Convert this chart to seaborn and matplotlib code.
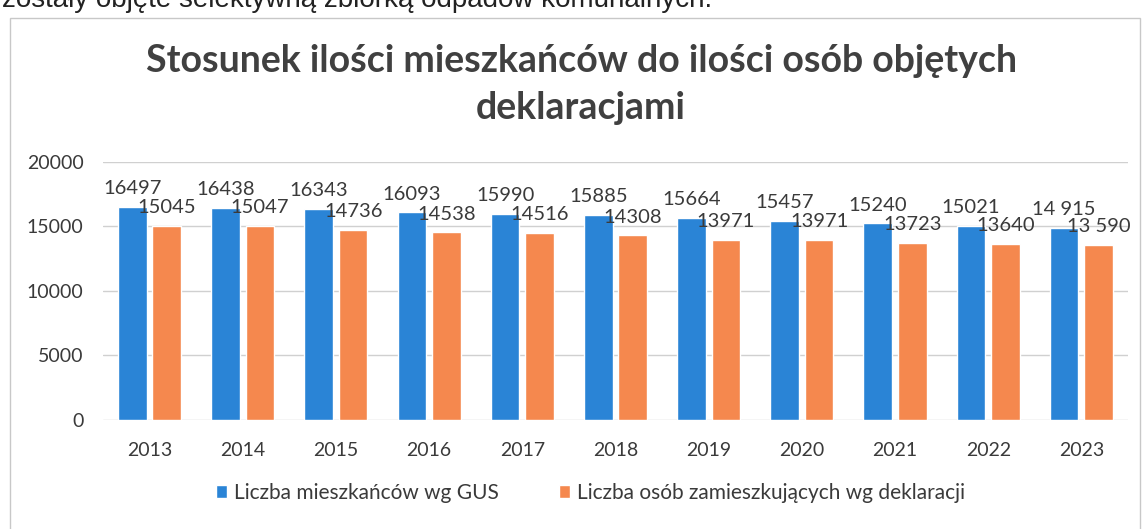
import pandas as pd
import seaborn as sns
import matplotlib.pyplot as plt
from matplotlib.patches import Rectangle


# -------------------------
# Data
# -------------------------

years = ["2013", "2014", "2015", "2016", "2017", "2018",
         "2019", "2020", "2021", "2022", "2023"]

gus = [16497, 16438, 16343, 16093, 15990, 15885,
       15664, 15457, 15240, 15021, 14915]
decl = [15045, 15047, 14736, 14538, 14516, 14308,
        13971, 13971, 13723, 13640, 13590]

gus_labels = ["16497", "16438", "16343", "16093", "15990", "15885",
              "15664", "15457", "15240", "15021", "14 915"]
decl_labels = ["15045", "15047", "14736", "14538", "14516", "14308",
               "13971", "13971", "13723", "13640", "13 590"]

series_names = ["Liczba mieszkańców wg GUS",
                "Liczba osób zamieszkujących wg deklaracji"]

yticks = [0, 5000, 10000, 15000, 20000]

title = "Stosunek ilości mieszkańców do ilości osób objętych\ndeklaracjami"
top_text = "zostały objęte selektywną zbiórką odpadów komunalnych."

data = pd.concat([
    pd.DataFrame({"Rok": years, "Wartość": gus, "Seria": series_names[0]}),
    pd.DataFrame({"Rok": years, "Wartość": decl, "Seria": series_names[1]}),
], ignore_index=True)


# -------------------------
# Style
# -------------------------

sns.set_style("white")
plt.rcParams['font.family'] = ['Lato', 'DejaVu Sans']

text_color = "#3a3a3a"
palette = {series_names[0]: "#2a84d6", series_names[1]: "#f5884e"}


# -------------------------
# Plot
# -------------------------

fig = plt.figure(figsize=(11.44, 5.29), dpi=100)
ax = fig.add_axes([0.090, 0.206, 0.896, 0.488])

sns.barplot(
    data=data,
    x="Rok",
    y="Wartość",
    hue="Seria",
    palette=palette,
    width=0.74,
    gap=0.17,
    saturation=1,
    ax=ax
)

for container, labels in zip(ax.containers, [gus_labels, decl_labels]):
    ax.bar_label(container, labels=labels, padding=7,
                 fontsize=14.5, color=text_color)

ax.set_xlim(-0.5, len(years) - 0.5)
ax.set_ylim(0, 20000)
ax.set_yticks(yticks)
ax.set_yticklabels([str(t) for t in yticks])
ax.set_xlabel("")
ax.set_ylabel("")

ax.yaxis.grid(True, color="#d0d0d0", linewidth=1)
ax.set_axisbelow(True)
for spine in ax.spines.values():
    spine.set_visible(False)

ax.tick_params(axis="both", length=0, labelsize=14, colors=text_color)
ax.tick_params(axis="x", pad=16)
ax.tick_params(axis="y", pad=14)


# -------------------------
# Legend
# -------------------------

handles, labels = ax.get_legend_handles_labels()
ax.get_legend().remove()
fig.legend(
    handles, labels,
    loc="center",
    bbox_to_anchor=(0.516, 0.068),
    ncol=2,
    frameon=False,
    fontsize=15,
    handlelength=0.55,
    handleheight=0.55,
    handletextpad=0.3,
    columnspacing=2.9,
    labelcolor=text_color
)


# -------------------------
# Title, frame, page text
# -------------------------

fig.text(0.508, 0.840, title, ha="center", va="center",
         fontsize=27, fontweight="bold", color="#404040",
         linespacing=1.45)

fig.patches.append(Rectangle((10 / 1144, -0.01), 1130 / 1144, 1 - 18 / 529 + 0.01,
                             transform=fig.transFigure, fill=False,
                             edgecolor="#c8c8c8", linewidth=1))

fig.text(0.002, 1.0, top_text, ha="left", va="center",
         fontsize=20, color="#222222", family=["Liberation Sans", "DejaVu Sans"])


fig.savefig("out.png", dpi=100)
plt.close(fig)
